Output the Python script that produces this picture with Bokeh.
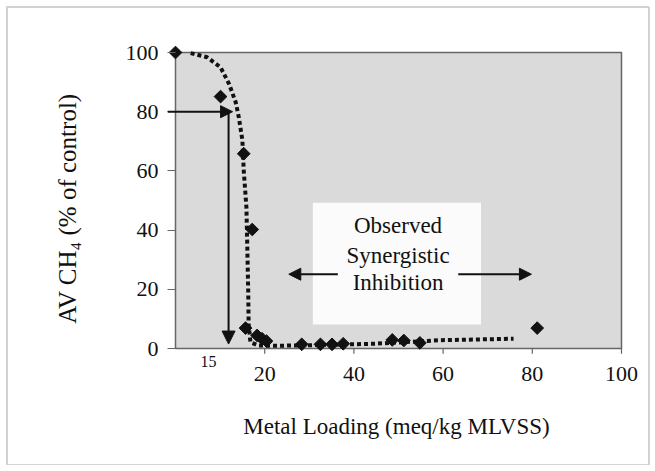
from bokeh.plotting import figure
from bokeh.models import (Range1d, FixedTicker, Arrow, NormalHead,
                          ColumnDataSource, InlineStyleSheet)
from bokeh.core.properties import value
from bokeh.embed import file_html
from bokeh.resources import INLINE
import math

# Measured methane activity vs. metal loading
loading = [0, 10.1, 15.3, 17.2, 15.7, 18.3, 19.4, 20.4, 28.3, 32.5, 35.1, 37.6,
           48.6, 51.2, 54.8, 81.1]
activity = [100, 85.1, 65.8, 40.2, 6.9, 4.4, 3.3, 2.5, 1.4, 1.4, 1.4, 1.6,
            2.9, 2.7, 1.9, 6.9]

# Hand-drawn trend line through the data
trend_x = [3.4, 7.1, 10.1, 12.0, 13.5, 14.2, 15.0, 15.3, 15.9, 16.1, 16.3, 16.4,
           16.8, 18.7, 22, 30, 44.4, 59.4, 75.8]
trend_y = [99.8, 98.4, 95, 89.4, 83.2, 78.1, 70.3, 60.1, 47.7, 34.2, 19.6, 8.3,
           2.1, 1.0, 0.9, 1.1, 1.6, 2.8, 3.3]

x_ticks = [20, 40, 60, 80, 100]
y_ticks = [0, 20, 40, 60, 80, 100]

# 80 % activity threshold and the loading it maps to
threshold_y = 80
threshold_x = 12.2
threshold_label = "15"

note_lines = ["Observed", "Synergistic", "Inhibition"]
note_x = [49.9, 49.9, 49.9]
note_y = [41.4, 31.5, 22.4]

SERIF = "Liberation Serif"
INK = "#111111"
FRAME = "#666666"

# data box is 0..100 on both axes; the frame leaves a little room around it
# so that markers and notes at the edges are not cut off
PX_X = 4.46   # pixels per x unit
PX_Y = 2.96   # pixels per y unit
x0 = -8 / PX_X
x1 = 100 + 4 / PX_X
y0 = -20 / PX_Y
y1 = 100 + 10 / PX_Y

page_border = InlineStyleSheet(css="""
:host {
  box-sizing: border-box;
  outline: 1.5px solid #d2d2d2;
  outline-offset: -7px;
  position: relative;
}
:host::after {
  content: "";
  position: absolute;
  left: 7px; top: 7px; right: 5px; bottom: 6px;
  border: 1.5px solid #d2d2d2;
  pointer-events: none;
  z-index: 10;
}
""")

p = figure(width=655, height=471, output_backend="svg", toolbar_location=None,
           x_range=Range1d(x0, x1), y_range=Range1d(y0, y1),
           min_border_left=167, min_border_right=30,
           min_border_top=42, min_border_bottom=103,
           background_fill_color="white", border_fill_alpha=0,
           stylesheets=[page_border])

p.grid.visible = False
p.outline_line_color = None

for ax in (p.xaxis[0], p.yaxis[0]):
    ax.axis_line_color = None
    ax.minor_tick_line_color = None
    ax.major_label_text_font = SERIF
    ax.major_label_text_font_size = "22px"
    ax.major_label_text_color = INK
    ax.axis_label_text_font = SERIF
    ax.axis_label_text_font_style = "normal"
    ax.axis_label_text_color = INK

p.xaxis.ticker = FixedTicker(ticks=x_ticks)
p.yaxis.ticker = FixedTicker(ticks=y_ticks)

# y ticks reach from the frame edge to the data box edge
p.yaxis.major_tick_line_color = FRAME
p.yaxis.major_tick_line_width = 1.2
p.yaxis.major_tick_in = 8
p.yaxis.major_tick_out = 0
p.yaxis.major_label_standoff = 9

p.xaxis.major_tick_line_color = None
p.xaxis.major_tick_in = 0
p.xaxis.major_tick_out = 0
p.xaxis.major_label_standoff = -2

p.xaxis.axis_label = "Metal Loading (meq/kg MLVSS)"
p.xaxis.axis_label_text_font_size = "23px"
p.xaxis.axis_label_standoff = 30
p.yaxis.axis_label = "AV CH\u2084  (% of control)"
p.yaxis.axis_label_text_font_size = "25px"
p.yaxis.axis_label_standoff = 42

# shaded data box with its border
p.quad(left=[0], right=[100], bottom=[0], top=[100],
       fill_color="#dadada", line_color=FRAME, line_width=1.5)

# x tick marks hanging under the data box
p.segment(x0=x_ticks, x1=x_ticks, y0=[0] * len(x_ticks),
          y1=[-1.8] * len(x_ticks), line_color=FRAME, line_width=1.2)

# white panel behind the annotation text
p.quad(left=[30.8], right=[68.5], bottom=[8.1], top=[49.2],
       fill_color="#fbfbfb", line_color=None)

# trend line
p.line(trend_x, trend_y, line_color=INK, line_width=4, line_dash="4 3")

# observations
p.scatter(loading, activity, marker="square", size=9, angle=math.pi / 4,
          fill_color=INK, line_color=INK)

def head(size):
    return NormalHead(size=size, fill_color=INK, line_color=INK)

# threshold arrows
p.add_layout(Arrow(x_start=x0, y_start=threshold_y, x_end=threshold_x + 0.6,
                   y_end=threshold_y, line_width=2, line_color=INK,
                   end=head(12)))
p.add_layout(Arrow(x_start=threshold_x - 0.3, y_start=threshold_y,
                   x_end=threshold_x - 0.3, y_end=1.5, line_width=2,
                   line_color=INK, end=head(13)))
p.text(x=[7.4], y=[-4.3], text=[threshold_label], text_font=value(SERIF),
       text_font_size="16px", text_color=INK, text_align="center",
       text_baseline="middle")

# inhibition region arrows
p.add_layout(Arrow(x_start=36.4, y_start=25.1, x_end=25.4, y_end=25.1,
                   line_width=2, line_color=INK, end=head(12)))
p.add_layout(Arrow(x_start=63.4, y_start=25.1, x_end=79.8, y_end=25.1,
                   line_width=2, line_color=INK, end=head(12)))

src = ColumnDataSource(dict(x=note_x, y=note_y, t=note_lines))
p.text(x="x", y="y", text="t", source=src, text_font=value(SERIF),
       text_font_size="23px", text_color=INK, text_align="center",
       text_baseline="middle")

open("out.html", "w").write(file_html(p, INLINE))
